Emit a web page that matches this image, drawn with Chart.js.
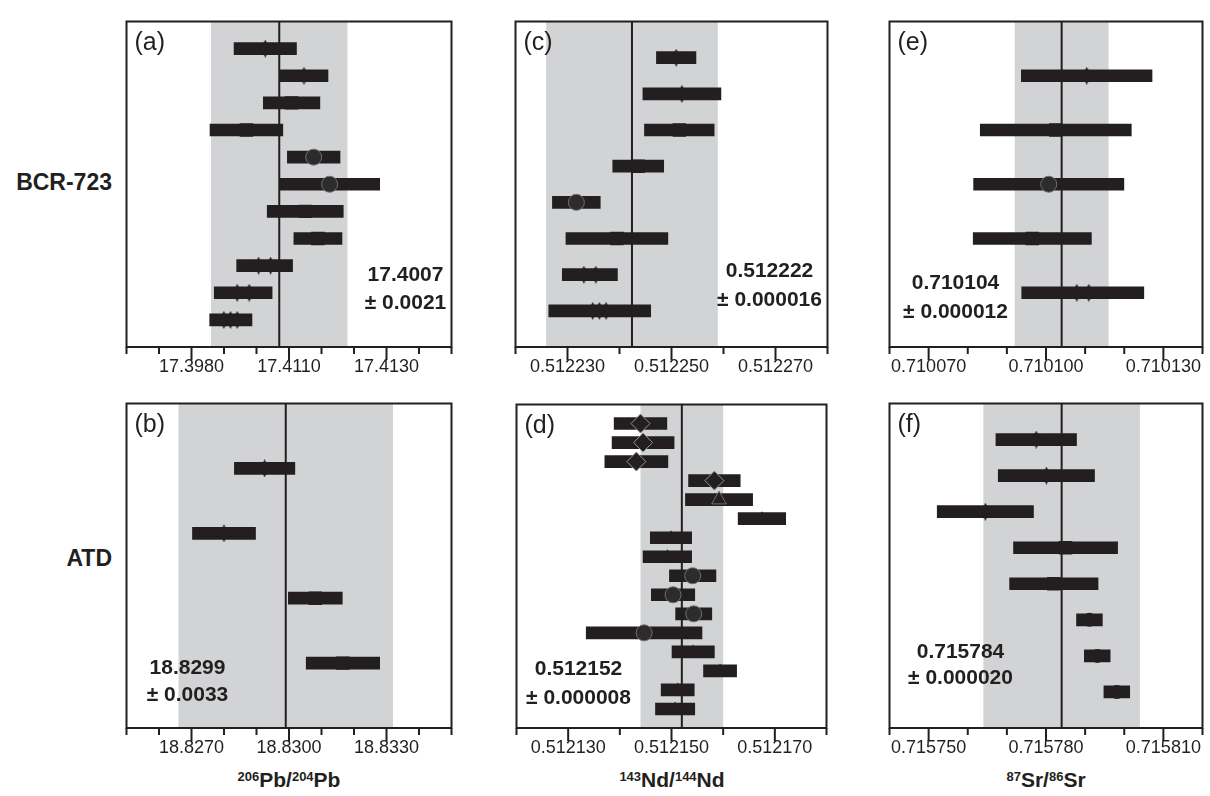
<!DOCTYPE html>
<html>
<head>
<meta charset="utf-8">
<script src="https://cdn.jsdelivr.net/npm/chart.js@4.4.0/dist/chart.umd.min.js"></script>
<style>
  body { margin: 0; background: #fff; width: 1210px; height: 796px; overflow: hidden; position: relative;
         font-family: "Liberation Sans", Arial, sans-serif; color: #231f20; }
  .panel { position: absolute; }
  .rowlab { position: absolute; left: 0; width: 112px; text-align: right; font-weight: bold; font-size: 23px; line-height: 28px; }
  .xtitle { position: absolute; width: 300px; text-align: center; font-weight: bold; font-size: 21px; line-height: 26px; }
  .xtitle sup { font-size: 13px; vertical-align: baseline; position: relative; top: -6px; }
</style>
</head>
<body>
<div class="rowlab" style="top:168px">BCR-723</div>
<div class="rowlab" style="top:544px">ATD</div>
<div class="xtitle" style="left:139px; top:767px"><sup>206</sup>Pb/<sup>204</sup>Pb</div>
<div class="xtitle" style="left:522px; top:767px"><sup>143</sup>Nd/<sup>144</sup>Nd</div>
<div class="xtitle" style="left:896px; top:767px"><sup>87</sup>Sr/<sup>86</sup>Sr</div>
<script>
const INK = '#231f20';
const BAND = '#d1d3d4';
const FONT = '"Liberation Sans", Arial, sans-serif';

// (a) BCR-723 206Pb/204Pb
const pbBcrValues = [17.40027, 17.40146, 17.40108, 17.39969, 17.40176, 17.40225, 17.40150, 17.40189, 17.40025, 17.39959, 17.39921];
const pbBcrErrors = [0.00096, 0.00074, 0.00087, 0.00112, 0.00081, 0.00154, 0.00117, 0.00074, 0.00086, 0.00089, 0.00065];
const pbBcrMarkers = ['dia', 'dia', 'sq', 'sq', 'circ', 'circ', 'sq', 'sq', 'dia2', 'dia2', 'dia3'];
const pbBcrTicks = [17.396, 17.397, 17.398, 17.399, 17.400, 17.401, 17.402, 17.403, 17.404, 17.405, 17.406];
const pbBcrMajor = [17.398, 17.401, 17.404];
const pbBcrTickLabels = ['17.3980', '17.4110', '17.4130'];
const pbBcrMean = 17.4007, pbBcrSd = 0.0021;
const pbBcrText = ['17.4007', '± 0.0021'];

// (b) ATD 206Pb/204Pb
const pbAtdValues = [18.82925, 18.82800, 18.83081, 18.83166];
const pbAtdErrors = [0.00093, 0.00097, 0.00083, 0.00113];
const pbAtdMarkers = ['dia', 'dia', 'sq', 'sq'];
const pbAtdTicks = [18.825, 18.826, 18.827, 18.828, 18.829, 18.830, 18.831, 18.832, 18.833, 18.834, 18.835];
const pbAtdMajor = [18.827, 18.830, 18.833];
const pbAtdTickLabels = ['18.8270', '18.8300', '18.8330'];
const pbAtdMean = 18.8299, pbAtdSd = 0.0033;
const pbAtdText = ['18.8299', '± 0.0033'];

// (c) BCR-723 143Nd/144Nd
const ndBcrValues = [0.5122509, 0.5122520, 0.5122515, 0.5122436, 0.5122317, 0.5122395, 0.5122343, 0.5122362];
const ndBcrErrors = [0.0000038, 0.0000075, 0.0000067, 0.0000049, 0.0000046, 0.0000098, 0.0000053, 0.0000098];
const ndBcrMarkers = ['dia', 'dia', 'sq', 'sq', 'circ', 'sq', 'dia2', 'dia3'];
const ndBcrTicks = [0.51222, 0.51223, 0.51224, 0.51225, 0.51226, 0.51227, 0.51228];
const ndBcrMajor = [0.51223, 0.51225, 0.51227];
const ndBcrTickLabels = ['0.512230', '0.512250', '0.512270'];
const ndBcrMean = 0.5122424, ndBcrSd = 0.0000165;
const ndBcrText = ['0.512222', '± 0.000016'];

// (d) ATD 143Nd/144Nd
const ndAtdValues = [0.5121440, 0.5121445, 0.5121432, 0.5121583, 0.5121592, 0.5121675, 0.5121499, 0.5121492,
                     0.5121541, 0.5121503, 0.5121543, 0.5121447, 0.5121542, 0.5121594, 0.5121512, 0.5121507];
const ndAtdErrors = [0.0000051, 0.0000060, 0.0000061, 0.0000050, 0.0000065, 0.0000046, 0.0000040, 0.0000047,
                     0.0000045, 0.0000042, 0.0000035, 0.0000112, 0.0000041, 0.0000032, 0.0000032, 0.0000038];
const ndAtdMarkers = ['bigdia', 'bigdia', 'bigdia', 'bigdia', 'bigtri', 'tri', 'tri', 'tri',
                      'circ', 'circ', 'circ', 'circ', 'tri', 'tri', 'tri', 'tri'];
const ndAtdTicks = [0.51212, 0.51213, 0.51214, 0.51215, 0.51216, 0.51217, 0.51218];
const ndAtdMajor = [0.51213, 0.51215, 0.51217];
const ndAtdTickLabels = ['0.512130', '0.512150', '0.512170'];
const ndAtdMean = 0.512152, ndAtdSd = 0.000008;
const ndAtdText = ['0.512152', '± 0.000008'];

// (e) BCR-723 87Sr/86Sr
const srBcrValues = [0.7101104, 0.7101025, 0.7101007, 0.7100965, 0.7101094];
const srBcrErrors = [0.0000167, 0.0000193, 0.0000192, 0.0000151, 0.0000156];
const srBcrMarkers = ['dia', 'sq', 'circ', 'sq', 'dia2'];
const srBcrTicks = [0.71006, 0.71007, 0.71008, 0.71009, 0.71010, 0.71011, 0.71012, 0.71013, 0.71014];
const srBcrMajor = [0.71007, 0.71010, 0.71013];
const srBcrTickLabels = ['0.710070', '0.710100', '0.710130'];
const srBcrMean = 0.710104, srBcrSd = 0.000012;
const srBcrText = ['0.710104', '± 0.000012'];

// (f) ATD 87Sr/86Sr
const srAtdValues = [0.7157775, 0.7157801, 0.7157645, 0.7157850, 0.7157820, 0.7157911, 0.7157931, 0.7157981];
const srAtdErrors = [0.0000103, 0.0000123, 0.0000123, 0.0000133, 0.0000113, 0.0000033, 0.0000033, 0.0000033];
const srAtdMarkers = ['dia', 'dia', 'dia', 'sq', 'sq', 'dot', 'dot', 'dot'];
const srAtdTicks = [0.71574, 0.71575, 0.71576, 0.71577, 0.71578, 0.71579, 0.71580, 0.71581, 0.71582];
const srAtdMajor = [0.71575, 0.71578, 0.71581];
const srAtdTickLabels = ['0.715750', '0.715780', '0.715810'];
const srAtdMean = 0.715784, srAtdSd = 0.000020;
const srAtdText = ['0.715784', '± 0.000020'];

// tall thin diamonds, one or a few side by side
function diamonds(n, gap) {
  const w = 9, h = 18;
  const c = document.createElement('canvas');
  c.width = Math.ceil(w + gap * (n - 1));
  c.height = h;
  const g = c.getContext('2d');
  g.fillStyle = INK;
  for (let k = 0; k < n; k++) {
    const cx = w / 2 + k * gap;
    g.beginPath();
    g.moveTo(cx, 0); g.lineTo(cx + w / 2, h / 2); g.lineTo(cx, h); g.lineTo(cx - w / 2, h / 2);
    g.closePath(); g.fill();
  }
  return c;
}

const markerStyles = {
  dia:    {style: diamonds(1, 0),   r: 5,   fill: INK, line: INK, lw: 0},
  dia2:   {style: diamonds(2, 12),  r: 5,   fill: INK, line: INK, lw: 0},
  dia3:   {style: diamonds(3, 6.7), r: 5,   fill: INK, line: INK, lw: 0},
  sq:     {style: 'rect',     r: 9.5, fill: INK, line: INK, lw: 0},
  circ:   {style: 'circle',   r: 8,   fill: '#2e2b2c', line: '#6d6e71', lw: 1},
  dot:    {style: 'circle',   r: 7,   fill: INK, line: INK, lw: 0},
  bigdia: {style: 'rectRot',  r: 9.5, fill: INK, line: '#939598', lw: 1},
  bigtri: {style: 'triangle', r: 8.5, fill: INK, line: '#6d6e71', lw: 1},
  tri:    {style: 'triangle', r: 7.5, fill: INK, line: INK, lw: 0}
};

const PAD = 4, AXIS_H = 40;

const panelPlugin = {
  id: 'panel',
  beforeDatasetsDraw(chart, args, o) {
    const {ctx, chartArea: a, scales: {x}} = chart;
    const l = x.getPixelForValue(o.mean - o.sd), r = x.getPixelForValue(o.mean + o.sd);
    const m = x.getPixelForValue(o.mean);
    ctx.save();
    ctx.fillStyle = BAND;
    ctx.fillRect(l, a.top, r - l, a.bottom - a.top);
    ctx.strokeStyle = INK;
    ctx.lineWidth = 2;
    ctx.beginPath(); ctx.moveTo(m, a.top); ctx.lineTo(m, a.bottom); ctx.stroke();
    ctx.restore();
  },
  afterDatasetsDraw(chart, args, o) {
    const {ctx, chartArea: a, scales: {x}} = chart;
    ctx.save();
    ctx.fillStyle = INK;
    ctx.textAlign = 'center';
    ctx.textBaseline = 'middle';
    ctx.font = 'bold 21px ' + FONT;
    ctx.fillText(o.text[0], a.left + o.textPos[0], a.top + o.textPos[1]);
    ctx.fillText(o.text[1], a.left + o.textPos[0], a.top + o.textPos[2]);
    ctx.textAlign = 'left';
    ctx.font = '25px ' + FONT;
    ctx.fillText(o.letter, a.left + 8, a.top + 22);
    // frame and ticks
    ctx.strokeStyle = INK;
    ctx.lineWidth = 2;
    ctx.strokeRect(a.left, a.top, a.right - a.left, a.bottom - a.top);
    ctx.beginPath();
    x.ticks.forEach(t => {
      const px = x.getPixelForValue(t.value);
      const major = o.major.some(v => Math.abs(v - t.value) < 1e-9);
      ctx.moveTo(px, a.bottom);
      ctx.lineTo(px, a.bottom + (major ? 13 : 7));
    });
    ctx.stroke();
    ctx.restore();
  }
};

function buildPanel(p) {
  const wrap = document.createElement('div');
  wrap.className = 'panel';
  wrap.style.left = (p.box.left - PAD) + 'px';
  wrap.style.top = (p.box.top - PAD) + 'px';
  const cv = document.createElement('canvas');
  cv.width = p.box.w + 2 * PAD;
  cv.height = p.box.h + PAD + AXIS_H;
  wrap.appendChild(cv);
  document.body.appendChild(wrap);

  const mk = key => c => (markerStyles[p.markers[c.dataIndex]] || markerStyles.dia)[key];

  new Chart(cv, {
    type: 'bar',
    data: {
      datasets: [
        {
          type: 'scatter',
          order: 0,
          data: p.values.map((v, i) => ({x: v, y: i + 1})),
          pointStyle: mk('style'),
          pointRadius: mk('r'),
          pointBackgroundColor: mk('fill'),
          pointBorderColor: mk('line'),
          pointBorderWidth: mk('lw')
        },
        {
          type: 'bar',
          order: 1,
          indexAxis: 'y',
          data: p.values.map((v, i) => ({x: [v - p.errors[i], v + p.errors[i]], y: i + 1})),
          backgroundColor: INK,
          borderWidth: 0,
          barThickness: 12
        }
      ]
    },
    options: {
      responsive: false,
      animation: false,
      events: [],
      layout: {padding: {left: PAD, right: PAD, top: PAD, bottom: 0}},
      plugins: {
        legend: {display: false},
        tooltip: {enabled: false},
        panel: {mean: p.mean, sd: p.sd, text: p.text, textPos: p.textPos, letter: p.letter, major: p.major}
      },
      scales: {
        x: {
          type: 'linear',
          min: p.ticks[0],
          max: p.ticks[p.ticks.length - 1],
          offset: false,
          afterBuildTicks: s => { s.ticks = p.ticks.map(v => ({value: v})); },
          afterFit: s => { s.height = AXIS_H; },
          grid: {drawOnChartArea: false, drawTicks: true, tickLength: 8, color: 'rgba(0,0,0,0)'},
          border: {display: false},
          ticks: {
            autoSkip: false, maxRotation: 0, minRotation: 0, padding: 1,
            color: INK, font: {family: FONT, size: 18},
            callback: v => {
              const k = p.major.findIndex(m => Math.abs(m - v) < 1e-9);
              return k < 0 ? '' : p.labels[k];
            }
          }
        },
        y: {type: 'linear', min: 0, max: p.values.length + 1, reverse: true, offset: false, display: false}
      }
    },
    plugins: [panelPlugin]
  });
}

const panels = [
  {box: {left: 121, top: 16, w: 336, h: 331}, values: pbBcrValues, errors: pbBcrErrors, markers: pbBcrMarkers,
   ticks: pbBcrTicks, major: pbBcrMajor, labels: pbBcrTickLabels, mean: pbBcrMean, sd: pbBcrSd,
   text: pbBcrText, textPos: [279, 254, 282], letter: '(a)'},
  {box: {left: 121, top: 398, w: 336, h: 330}, values: pbAtdValues, errors: pbAtdErrors, markers: pbAtdMarkers,
   ticks: pbAtdTicks, major: pbAtdMajor, labels: pbAtdTickLabels, mean: pbAtdMean, sd: pbAtdSd,
   text: pbAtdText, textPos: [61, 265, 292], letter: '(b)'},
  {box: {left: 510, top: 16, w: 323, h: 331}, values: ndBcrValues, errors: ndBcrErrors, markers: ndBcrMarkers,
   ticks: ndBcrTicks, major: ndBcrMajor, labels: ndBcrTickLabels, mean: ndBcrMean, sd: ndBcrSd,
   text: ndBcrText, textPos: [254, 250, 279], letter: '(c)'},
  {box: {left: 510, top: 398, w: 323, h: 330}, values: ndAtdValues, errors: ndAtdErrors, markers: ndAtdMarkers,
   ticks: ndAtdTicks, major: ndAtdMajor, labels: ndAtdTickLabels, mean: ndAtdMean, sd: ndAtdSd,
   text: ndAtdText, textPos: [62, 265, 294], letter: '(d)'},
  {box: {left: 884, top: 16, w: 324, h: 331}, values: srBcrValues, errors: srBcrErrors, markers: srBcrMarkers,
   ticks: srBcrTicks, major: srBcrMajor, labels: srBcrTickLabels, mean: srBcrMean, sd: srBcrSd,
   text: srBcrText, textPos: [66, 262, 291], letter: '(e)'},
  {box: {left: 884, top: 398, w: 324, h: 330}, values: srAtdValues, errors: srAtdErrors, markers: srAtdMarkers,
   ticks: srAtdTicks, major: srAtdMajor, labels: srAtdTickLabels, mean: srAtdMean, sd: srAtdSd,
   text: srAtdText, textPos: [71, 249, 275], letter: '(f)'}
];

panels.forEach(buildPanel);
</script>
</body>
</html>
